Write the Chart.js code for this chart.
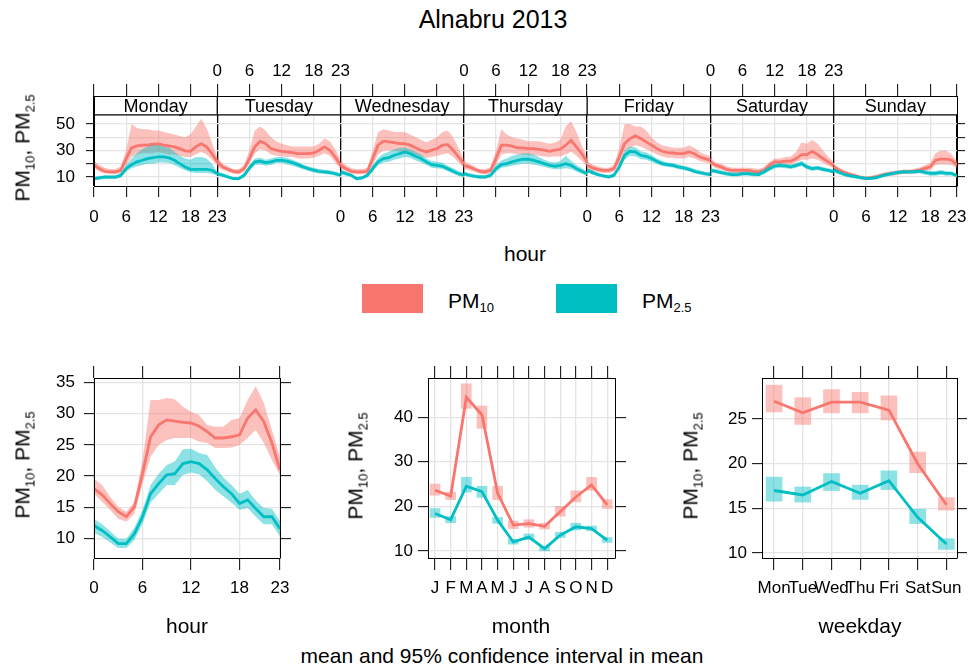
<!DOCTYPE html>
<html>
<head>
<meta charset="utf-8">
<script src="https://cdn.jsdelivr.net/npm/chart.js@4.4.1/dist/chart.umd.min.js"></script>
<style>
body { margin: 0; background: #fff; font-family: "Liberation Sans", Arial, sans-serif; color: #000; }
#wrap { position: relative; width: 968px; height: 667px; overflow: hidden; }
canvas { position: absolute; }
.t { position: absolute; white-space: nowrap; font-size: 21px; line-height: 1; transform: translate(-50%, -50%); }
.rot { transform: translate(-50%, -50%) rotate(-90deg); }
.t sub { font-size: 0.62em; vertical-align: -0.35em; line-height: 0; }
.key { position: absolute; width: 61px; height: 29px; }
</style>
</head>
<body>
<div id="wrap">
  <div class="t" style="left:493px;top:19px;font-size:25px">Alnabru 2013</div>

  <canvas id="dayHour" width="968" height="190" style="left:0;top:50px"></canvas>
  <div class="t rot" style="left:22px;top:148px">PM<sub>10</sub>, PM<sub>2.5</sub></div>
  <div class="t" style="left:525px;top:253px">hour</div>

  <div class="key" style="left:362px;top:284px;background:#F8766D"></div>
  <div class="t" style="left:448px;top:300px;transform:translate(0,-50%)">PM<sub>10</sub></div>
  <div class="key" style="left:556px;top:284px;background:#00BFC4"></div>
  <div class="t" style="left:642px;top:300px;transform:translate(0,-50%)">PM<sub>2.5</sub></div>

  <canvas id="hourChart" width="320" height="300" style="left:0;top:330px"></canvas>
  <canvas id="monthChart" width="320" height="300" style="left:330px;top:330px"></canvas>
  <canvas id="weekChart" width="328" height="300" style="left:640px;top:330px"></canvas>

  <div class="t rot" style="left:22px;top:465px">PM<sub>10</sub>, PM<sub>2.5</sub></div>
  <div class="t rot" style="left:355px;top:466px">PM<sub>10</sub>, PM<sub>2.5</sub></div>
  <div class="t rot" style="left:690px;top:466px">PM<sub>10</sub>, PM<sub>2.5</sub></div>
  <div class="t" style="left:187px;top:625px">hour</div>
  <div class="t" style="left:521px;top:625px">month</div>
  <div class="t" style="left:860px;top:625px">weekday</div>
  <div class="t" style="left:502px;top:655px">mean and 95% confidence interval in mean</div>
</div>

<script>
// ---- data ----
var hours = [0,1,2,3,4,5,6,7,8,9,10,11,12,13,14,15,16,17,18,19,20,21,22,23];
var dayNames = ['Monday','Tuesday','Wednesday','Thursday','Friday','Saturday','Sunday'];

var pm10ByDay = [
  [18.8,16.3,14.3,13.8,13.8,15,23.9,32,33.4,34,34,34.7,35,34,33.4,32.7,31.4,29.7,29.4,32.7,35.2,32.7,27.6,21.4],
  [21.4,17.6,15.8,14.3,13.8,16.3,23.9,32.7,37,35.2,31.4,30.2,29.4,28.9,28.4,27.6,27.6,27.6,28.1,30.2,32.7,30.2,25.1,18.8],
  [18.8,16.3,14.3,13.8,13.8,14.3,23.9,34,37,36.5,36,35.2,35.2,34,32,30.2,28.9,30.2,31.4,34,34.4,30.2,25.1,20.1],
  [18.8,17.6,15.8,14.3,13.8,15,23.9,34,34,33.2,32,32,31.4,31.4,30.9,30.2,29.4,30.2,30.9,34,37.7,32.7,27.6,21.4],
  [18.8,16.8,15.8,15,15,16.3,25.1,35.2,39,41,39,36.5,34,31.4,29.4,28.4,28.1,27.6,27.6,28.9,27.6,25.1,23.9,22.6],
  [21.4,18.8,17.6,15.8,15,15,15,15,14.3,13.8,15,18.8,21.4,21.4,21.9,21.9,23.9,26.9,26.9,29.4,26.9,23.9,21.4,18.8],
  [17.7,15.2,13.4,11.9,10.9,9.7,9,9.5,10.2,11.4,12.2,12.7,13.4,13.9,13.9,14.4,15.2,16.5,17.7,22.7,23.5,23.5,22.7,19]
];
var pm10ByDayLo = [
  [17,14,13,12,12,13,19,25,27,28,28,28,29,28,27,27,26,25,25,27,29,27,23,19],
  [18,15,14,12.5,12,14,20,28,31,30,27,26,25.5,25,25,24,24,24,24.5,26,28,26,21,16],
  [16,14,12.5,12,12,12.5,19,27,30,30,30,29,29,28,27,25.5,24.5,25,26,27,28,25,21,17],
  [16,15,14,12.5,12,13,19,27,28,28,27,27,26.5,26.5,26,25.5,25,25.5,25.5,27,29,26,22,18],
  [16,14.5,13.5,13,13,14,20,29,32,34,33,31,29,27,25.5,24.5,24.5,24,24,25,24,22,21,20],
  [19,16.5,15.5,14,13,13,13,13,12.5,12,13,16.5,19,19,19.5,19.5,21,23,23,24,23,20.5,18.5,16.5],
  [15.5,13.5,11.8,10.4,9.5,8.3,7.7,8.1,8.7,9.9,10.6,11,11.7,12.2,12.2,12.6,13.3,14.4,15.2,19,19.5,19.5,19,16.5]
];
var pm10ByDayHi = [
  [22,19,17,16,16,18,30,50,47,46,46,45,45,44,43,42,41,40,42,48,54,47,36,25],
  [25,20,18,16,16,19,30,45,48,45,40,37,35,34,33,33,33,33,33,35,39,37,31,23],
  [22,19,16.5,16,16,17,30,44,46,45,44,44,44,42,40,38,36,38,40,44,45,40,32,24],
  [22,20,18,16,16,17.5,30,46,42,40,39,38,37,37,37,36,35,36,38,48,52,44,34,25],
  [22,19.5,18,17,17,19,32,50,50,48,48,45,40,36,34,33,32,32,32,34,32,29,27,26],
  [24,21,20,18,17,17,17,17,16.5,16,17.5,21.5,24,24,25,25.5,29,36,35,38,35,30,25,21.5],
  [20,17,15,13.5,12.5,11.2,10.4,11,11.8,13,14,14.5,15,15.7,15.7,16.3,17.2,18.8,20.5,28,30,30,27,22]
];
var pm25ByDay = [
  [8.7,9.3,10,10,10,11.3,16.3,19.3,21.4,22.6,23.9,24.6,25.1,25.1,24.4,22.6,20.1,17.6,15.8,15.8,15.8,15.8,15.1,12.5],
  [12.5,11.3,10,8.7,8.7,11.3,16.8,21.4,21.9,20.8,21.4,22.6,22.6,21.9,20.8,19.3,17.6,16.3,15.1,14.3,13.8,13.3,12.5,11.3],
  [13.8,12.5,11.3,8.7,9.3,11.3,16.3,21.4,23.9,24.6,26.4,27.6,28.9,27.6,25.6,23.9,21.4,19.3,18.8,18.1,16.3,14.3,12.5,11.3],
  [12.5,11.3,10.5,10,10,11.3,16.3,19.3,20.1,21.4,22.6,23.4,23.4,22.6,21.4,20.1,18.8,18.1,18.8,20.1,18.8,16.3,14.3,12.5],
  [15,13.3,11.8,10.8,10,11.3,17.6,26.4,29.4,28.9,26.4,25.6,23.9,21.9,20.1,19.3,18.8,17.6,16.8,15.8,14.3,13.3,12.5,11.8],
  [15,14.3,13.3,12.5,11.8,11.8,12.5,12.5,12,11.8,13.8,16.3,18.3,18.8,18.3,17.6,18.8,20.1,17.6,16.3,16.8,15.8,15,13.8],
  [15.2,13.4,11.9,10.9,10.2,9.5,9,9,9.5,10.9,11.9,12.7,13.4,13.9,13.9,13.9,14.4,13.4,12.7,12.7,13.4,12.7,12.7,10.9]
];
var pm25ByDayLo = [
  [7.5,8,8.5,8.5,8.5,9.5,14,16.5,18,19,20,20,21,21,20.5,19,17,15,13.5,13,13,13,12.5,11],
  [11,10,8.8,7.5,7.5,9.5,14.5,19,19.5,18.5,19,20.5,20.5,19.5,18.5,17.2,15.8,14.6,13.4,12.7,12.2,11.8,11,9.8],
  [12,11,10,7.5,8,9.8,14,19,21,21.5,23,24,25,24.5,22.5,21,19,17,16.5,16,14.3,12.5,10.8,9.8],
  [11,10,9.2,8.8,8.8,9.8,14,17,17.5,18.5,19.5,20,20,19.5,18.5,17.5,16.5,15.8,16,16.5,16,14,12.5,11],
  [13.5,11.8,10.5,9.6,8.8,9.8,15,23,26,25.5,23.5,23,21.5,19.8,18.3,17.6,17.1,15.9,15.2,14.2,12.8,11.8,11,10.3],
  [13.5,12.8,11.8,11,10.3,10.3,11,11,10.5,10.3,12,14.5,16.5,17,16.6,16,17,18.3,15.8,14.6,15.2,14.2,13.5,12.2],
  [13.6,12,10.6,9.6,8.9,8.3,7.8,7.8,8.2,9.6,10.6,11.4,12.1,12.5,12.5,12.5,12.9,11.8,10.9,10.9,11.6,11,11.2,9.5]
];
var pm25ByDayHi = [
  [10,11,11,11,11,13,19,24,28,31,33,34,34,33,32,29,26,24,23,25,25,24,20,14],
  [14,13,11.5,10,10,13,19,24,24.5,23,24,25,25,24.5,23,21.5,19.5,18,17,16,15.5,15,14,13],
  [15.5,14,12.5,10,10.5,13,19,24.5,27.5,29,31,32,32,31,29,27,24,22,21.5,21,18.5,16.5,14.5,13],
  [14,13,12,11.5,11.5,13,19,22.5,24,26,27,28,28,27,25,23,21.5,21,22,26,22,19,16.5,14],
  [16.5,15,13,12,11.5,13,20,30,33,32.5,29.5,28.5,26.5,24,22,21,20.5,19.5,18.5,17.5,16,15,14,13.5],
  [16.5,16,15,14,13.5,13.5,14,14,13.5,13.5,15.5,18,20,20.5,20,19.5,20.5,22,19.5,18,18.5,17.5,16.5,15.5],
  [16.8,14.8,13.2,12.2,11.5,10.7,10.2,10.2,10.8,12.2,13.2,14,14.7,15.3,15.3,15.3,15.9,15,14.5,14.5,15.2,14.4,14.2,12.3]
];

var pm10Hour   = [18,17,15.6,14.3,13.5,15.1,20.4,26.3,28.2,29,28.8,28.6,28.5,28,27.1,26.1,26.1,26.3,26.6,29.3,30.6,28.7,25.3,21];
var pm10HourLo = [17.2,15.9,14.6,13.2,12.7,14,18.8,23.1,25,25.8,26.1,26.1,26.1,25.5,25.3,24.5,24.5,24.6,25,26.1,27.4,25.3,22.6,20.2];
var pm10HourHi = [19.6,18.6,16.7,15.1,14.3,15.9,22.6,32.2,32.2,32.5,32.3,31.1,30.3,29.8,28.2,27.9,27.9,29,29.3,32.2,34.4,31.7,27.4,23.1];
var pm25Hour   = [12.1,11.3,10.3,9.2,9.2,10.8,13.5,17.2,18.8,20.2,20.4,22,22.3,22,21,19.6,18.3,17.2,15.6,16.2,14.8,13.5,13.5,11.6];
var pm25HourLo = [10.9,10.3,9.4,8.5,8.5,9.8,12.4,15.8,17.2,18.6,18.6,20.2,20.6,20.3,19.2,17.8,16.8,15.8,14.6,14.9,13.5,12.3,12.3,10.4];
var pm25HourHi = [13.2,12.3,11.2,10,10,11.8,14.6,18.6,20.4,21.8,22.4,24.3,24.4,23.7,23.4,21.4,19.8,18.6,17.2,17.8,16.1,14.9,14.8,12.8];

var monthLabels = ['J','F','M','A','M','J','J','A','S','O','N','D'];
var monthNums   = [1,2,3,4,5,6,7,8,9,10,11,12];
var pm10Month   = [23.6,22.3,44.5,40.5,22.9,15.8,16.1,15.5,18.8,22.1,24.8,20.3];
var pm10MonthLo = [22.5,21.5,42,37.5,21.5,15,15.3,14.9,17.8,21,23.6,19.5];
var pm10MonthHi = [25,23.2,47.5,42.5,24.5,16.7,17,16.2,20,23.5,26.5,21.5];
var pm25Month   = [18.4,17,24.5,23.3,16.9,12,13.1,10.5,13.5,15.4,15,12.4];
var pm25MonthLo = [17.5,16.3,23.2,22,16.2,11.5,12.5,10,13,14.7,14.5,11.9];
var pm25MonthHi = [19.5,17.7,26.5,24.5,17.5,12.6,13.8,11,14.2,16.2,15.6,13];

var weekLabels = ['Mon','Tue','Wed','Thu','Fri','Sat','Sun'];
var weekNums   = [1,2,3,4,5,6,7];
var pm10Week   = [27,25.7,26.9,26.9,26,20,15.4];
var pm10WeekLo = [25.8,24.4,25.7,25.7,24.9,19,14.8];
var pm10WeekHi = [28.8,27.4,28.3,28,27.6,21.3,16.2];
var pm25Week   = [17,16.5,18,16.7,18.1,14,11];
var pm25WeekLo = [15.8,15.7,17,16,17.1,13.3,10.4];
var pm25WeekHi = [18.5,17.4,18.9,17.6,19.2,14.9,11.6];

// ---- styling ----
var RED = '#F8766D', TEAL = '#00BFC4';
var RED_FILL = 'rgba(248,118,109,0.45)', TEAL_FILL = 'rgba(0,191,196,0.45)';
var GRID = '#e4e4e4';

Chart.defaults.font.family = '"Liberation Sans", Arial, sans-serif';
Chart.defaults.font.size = 17;
Chart.defaults.color = '#000';

function pts(xs, ys) {
  return ys.map(function(v, i){ return { x: xs[i], y: v }; });
}

function bandAndLine(xs, mean, lo, hi, color, fillColor, order, lw) {
  return [
    { type: 'line', data: pts(xs, hi), borderColor: 'rgba(0,0,0,0)', borderWidth: 0, pointRadius: 0, fill: '+1', backgroundColor: fillColor, order: order + 1 },
    { type: 'line', data: pts(xs, lo), borderColor: 'rgba(0,0,0,0)', borderWidth: 0, pointRadius: 0, fill: false, order: order + 1 },
    { type: 'line', data: pts(xs, mean), borderColor: color, borderWidth: lw, pointRadius: 0, fill: false, order: order }
  ];
}

function boxesAndLine(xs, mean, lo, hi, color, fillColor, order, thick) {
  return [
    { type: 'bar', data: lo.map(function(v, i){ return { x: xs[i], y: [v, hi[i]] }; }),
      backgroundColor: fillColor, borderWidth: 0, barThickness: thick, grouped: false, order: order + 1 },
    { type: 'line', data: pts(xs, mean), borderColor: color, borderWidth: 2.8, pointRadius: 0, fill: false, order: order }
  ];
}

function axis(o) {
  var horiz = o.position === 'top' || o.position === 'bottom';
  return {
    type: 'linear',
    position: o.position,
    offset: false,
    min: o.min, max: o.max,
    afterBuildTicks: function(s){ s.ticks = o.ticks.map(function(v){ return { value: v }; }); },
    afterFit: function(s){
      if (horiz) { s.height = o.size; s.paddingLeft = 0; s.paddingRight = 0; }
      else { s.width = o.size; s.paddingTop = 0; s.paddingBottom = 0; }
    },
    ticks: { callback: o.label || function(){ return ''; }, autoSkip: false, maxRotation: 0, minRotation: 0, padding: o.pad || 0 },
    grid: { offset: false, drawOnChartArea: !!o.grid, color: o.gridColor || GRID, lineWidth: 1.3,
            tickLength: o.tickLen, tickColor: '#000', tickWidth: 1 },
    border: { display: true, color: '#000', width: 1, z: 1 }
  };
}

var baseOptions = {
  responsive: false,
  animation: false,
  layout: { padding: 0 },
  plugins: { legend: { display: false }, tooltip: { enabled: false } }
};

function opts(scales) {
  return Object.assign({}, baseOptions, { scales: scales });
}

// ---- top: hour by weekday ----
var PLOT_TOP = 56.8;   // value at the bottom of the strip
var dayTicks = [0];
for (var d = 0; d < 7; d++) { [6, 12, 18, 23].forEach(function(h){ dayTicks.push(d * 23 + h); }); }

function dayLabel(parity) {
  return function(v) {
    if (v % 23 === 0) {
      var k = v / 23;
      if (k - 1 >= 0 && (k - 1) % 2 === parity) return '23';
      if (k <= 6 && k % 2 === parity) return '0';
      return '';
    }
    var day = Math.floor(v / 23);
    return day % 2 === parity ? String(v - day * 23) : '';
  };
}

var stripPlugin = {
  id: 'strips',
  beforeDatasetsDraw: function(chart) {
    var ctx = chart.ctx, xs = chart.scales.x, area = chart.chartArea;
    var yb = chart.scales.y.getPixelForValue(PLOT_TOP);
    ctx.save();
    ctx.fillStyle = '#fff';
    ctx.fillRect(area.left, area.top, area.right - area.left, yb - area.top);
    ctx.strokeStyle = '#000';
    ctx.lineWidth = 1.3;
    ctx.beginPath();
    ctx.moveTo(area.left, yb); ctx.lineTo(area.right, yb);
    ctx.stroke();
    ctx.font = '18px "Liberation Sans", Arial, sans-serif';
    ctx.textAlign = 'center';
    ctx.textBaseline = 'middle';
    dayNames.forEach(function(name, i){
      var x0 = xs.getPixelForValue(i * 23), x1 = xs.getPixelForValue(i * 23 + 23);
      ctx.beginPath(); ctx.moveTo(x0, area.top); ctx.lineTo(x0, yb); ctx.stroke();
      ctx.fillStyle = '#000';
      ctx.fillText(name, (x0 + x1) / 2, (area.top + yb) / 2 + 2);
    });
    ctx.restore();
  }
};

var topSets = [];
for (var di = 0; di < 7; di++) {
  var xs = hours.map(function(h){ return di * 23 + h; });
  topSets = topSets.concat(bandAndLine(xs, pm10ByDay[di], pm10ByDayLo[di], pm10ByDayHi[di], RED, RED_FILL, 3, 2.8));
  topSets = topSets.concat(bandAndLine(xs, pm25ByDay[di], pm25ByDayLo[di], pm25ByDayHi[di], TEAL, TEAL_FILL, 1, 2.8));
}

new Chart(document.getElementById('dayHour'), {
  type: 'line',
  data: { datasets: topSets },
  options: opts({
    x: axis({ position: 'bottom', min: 0, max: 161, ticks: dayTicks, label: dayLabel(0), size: 54, tickLen: 11, pad: 10, grid: true,
              gridColor: function(c){ return c.tick && c.tick.value % 23 === 0 ? '#000' : GRID; } }),
    y: axis({ position: 'left', min: 3.2, max: 71.1, ticks: [10, 20, 30, 40, 50], size: 94, tickLen: 8, pad: 11, grid: true,
              label: function(v){ return (v === 10 || v === 30 || v === 50) ? String(v) : ''; } }),
    x2: axis({ position: 'top', min: 0, max: 161, ticks: dayTicks, label: dayLabel(1), size: 46, tickLen: 12, pad: 2 }),
    y2: axis({ position: 'right', min: 3.2, max: 71.1, ticks: [10, 20, 30, 40, 50], size: 11, tickLen: 8 })
  }),
  plugins: [stripPlugin]
});

// ---- bottom left: hour ----
new Chart(document.getElementById('hourChart'), {
  type: 'line',
  data: { datasets: [].concat(
    bandAndLine(hours, pm10Hour, pm10HourLo, pm10HourHi, RED, RED_FILL, 3, 2.8),
    bandAndLine(hours, pm25Hour, pm25HourLo, pm25HourHi, TEAL, TEAL_FILL, 1, 2.8)
  ) },
  options: opts({
    x: axis({ position: 'bottom', min: 0, max: 23, ticks: [0, 6, 12, 18, 23], label: function(v){ return String(v); }, size: 72, tickLen: 12, pad: 8, grid: true }),
    y: axis({ position: 'left', min: 6.9, max: 35.7, ticks: [10, 15, 20, 25, 30, 35], label: function(v){ return String(v); }, size: 94, tickLen: 10, pad: 9, grid: true }),
    x2: axis({ position: 'top', min: 0, max: 23, ticks: [0, 6, 12, 18, 23], size: 48, tickLen: 12 }),
    y2: axis({ position: 'right', min: 6.9, max: 35.7, ticks: [10, 15, 20, 25, 30, 35], size: 40, tickLen: 11 })
  })
});

// ---- bottom middle: month ----
new Chart(document.getElementById('monthChart'), {
  type: 'line',
  data: { datasets: [].concat(
    boxesAndLine(monthNums, pm10Month, pm10MonthLo, pm10MonthHi, RED, RED_FILL, 3, 10),
    boxesAndLine(monthNums, pm25Month, pm25MonthLo, pm25MonthHi, TEAL, TEAL_FILL, 1, 10)
  ) },
  options: opts({
    x: axis({ position: 'bottom', min: 0.55, max: 12.5, ticks: monthNums, label: function(v){ return monthLabels[v - 1]; }, size: 72, tickLen: 12, pad: 8, grid: true }),
    y: axis({ position: 'left', min: 8.4, max: 48.8, ticks: [10, 20, 30, 40], label: function(v){ return String(v); }, size: 98, tickLen: 10, pad: 5, grid: true }),
    x2: axis({ position: 'top', min: 0.55, max: 12.5, ticks: monthNums, size: 48, tickLen: 12 }),
    y2: axis({ position: 'right', min: 8.4, max: 48.8, ticks: [10, 20, 30, 40], size: 35, tickLen: 11 })
  })
});

// ---- bottom right: weekday ----
new Chart(document.getElementById('weekChart'), {
  type: 'line',
  data: { datasets: [].concat(
    boxesAndLine(weekNums, pm10Week, pm10WeekLo, pm10WeekHi, RED, RED_FILL, 3, 16),
    boxesAndLine(weekNums, pm25Week, pm25WeekLo, pm25WeekHi, TEAL, TEAL_FILL, 1, 16)
  ) },
  options: opts({
    x: axis({ position: 'bottom', min: 0.58, max: 7.37, ticks: weekNums, label: function(v){ return weekLabels[v - 1]; }, size: 72, tickLen: 12, pad: 8, grid: true }),
    y: axis({ position: 'left', min: 9.44, max: 29.6, ticks: [10, 15, 20, 25], label: function(v){ return String(v); }, size: 122, tickLen: 10, pad: 5, grid: true }),
    x2: axis({ position: 'top', min: 0.58, max: 7.37, ticks: weekNums, size: 48, tickLen: 12 }),
    y2: axis({ position: 'right', min: 9.44, max: 29.6, ticks: [10, 15, 20, 25], size: 11, tickLen: 10 })
  })
});
</script>
</body>
</html>
